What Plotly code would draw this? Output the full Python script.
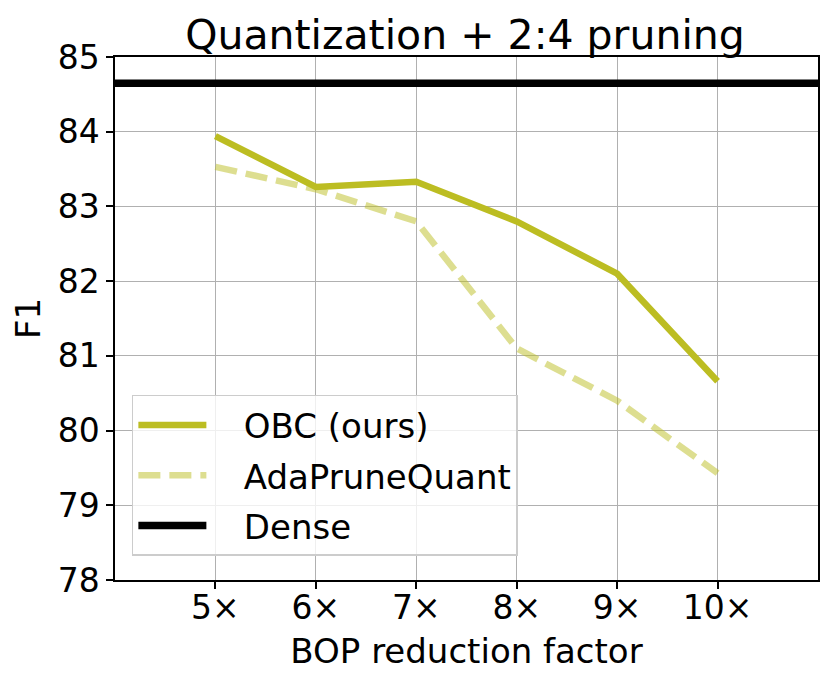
import plotly.graph_objects as go

x_vals = [5, 6, 7, 8, 9, 10]
x_labels = ["5×", "6×", "7×", "8×", "9×", "10×"]
obc = [83.94, 83.26, 83.33, 82.80, 82.10, 80.66]
ada = [83.53, 83.23, 82.80, 81.10, 80.40, 79.43]
dense = 84.65
x_range = [4, 11]
y_ticks = [78, 79, 80, 81, 82, 83, 84, 85]

fig = go.Figure()
fig.add_trace(go.Scatter(x=x_vals, y=obc, mode="lines", name="\u00a0\u00a0\u00a0OBC (ours)",
                         legendgroup="a",
                         line=dict(color="#bcbd22", width=6.5)))
fig.add_trace(go.Scatter(x=x_vals, y=ada, mode="lines", name="\u00a0\u00a0\u00a0AdaPruneQuant",
                         legendgroup="b",
                         line=dict(color="rgba(188,189,34,0.5)", width=6.5, dash="22px,9px")))
fig.add_trace(go.Scatter(x=x_range, y=[dense, dense], mode="lines", name="\u00a0\u00a0\u00a0Dense",
                         legendgroup="c",
                         line=dict(color="black", width=7.5)))

axis_common = dict(showline=True, linecolor="black", linewidth=1.5, mirror=True,
                   ticks="outside", ticklen=7, tickwidth=1.5, tickcolor="black",
                   showgrid=True, gridcolor="#b0b0b0", gridwidth=1, zeroline=False,
                   tickfont=dict(size=33, color="black"))

fig.update_layout(
    width=831, height=685,
    margin=dict(l=107, r=21, t=49, b=113),
    paper_bgcolor="white", plot_bgcolor="white",
    font=dict(family="DejaVu Sans", color="black"),
    title=dict(text="Quantization + 2:4 pruning", x=457 / 831, xanchor="center",
               y=1 - 27 / 685, yanchor="middle", font=dict(size=41)),
    xaxis=dict(range=x_range, tickvals=x_vals, ticktext=x_labels,
               ticklabelstandoff=-9,
               title=dict(text="BOP reduction factor", font=dict(size=34), standoff=13),
               **axis_common),
    yaxis=dict(range=[78, 85], tickvals=y_ticks,
               title=dict(text="F1", font=dict(size=34), standoff=12),
               **axis_common),
    legend=dict(x=0.024, y=0.046, xanchor="left", yanchor="bottom",
                bgcolor="rgba(255,255,255,0.8)", bordercolor="#cccccc", borderwidth=1.5,
                font=dict(size=34), itemwidth=68, tracegroupgap=3,
                traceorder="grouped"),
    showlegend=True,
)

fig.write_html("out.html")
